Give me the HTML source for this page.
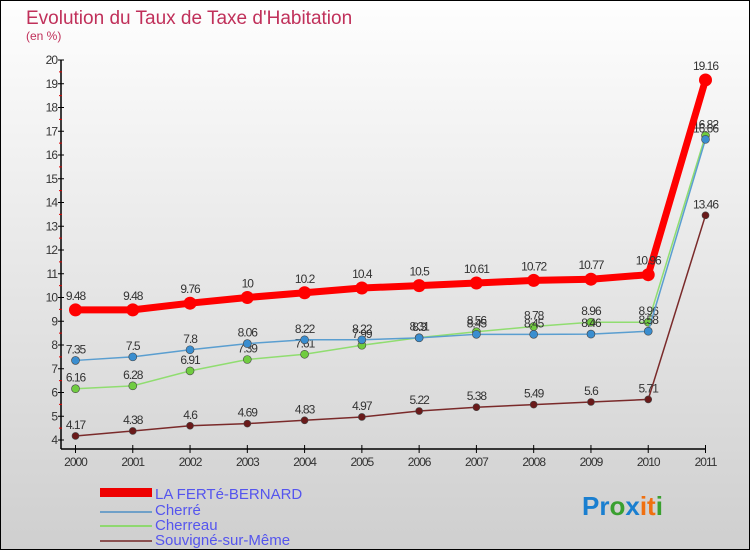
<!DOCTYPE html>
<html><head><meta charset="utf-8"><style>
body{margin:0}
#c{width:750px;height:550px;position:relative;box-sizing:border-box;border:1px solid #000;background:linear-gradient(#fefefe,#cfcfcf);font-family:"Liberation Sans",sans-serif;overflow:hidden}
</style></head><body>
<div id="c">
<svg id="s" width="750" height="550" style="position:absolute;left:-1px;top:-1px">
<text x="26" y="24" font-size="19" fill="#c0305a">Evolution du Taux de Taxe d'Habitation</text>
<text x="26" y="40" font-size="12" fill="#c0305a">(en %)</text>
<g id="axes"></g><g id="series"></g>
<g>
<rect x="100" y="488" width="52" height="9" fill="#e00"/>
<text x="155" y="499" font-size="15" fill="#5555ee">LA FERTé-BERNARD</text>
<rect x="100" y="511" width="52" height="2" fill="#6fa0c8"/>
<text x="155" y="515" font-size="15" fill="#5555ee">Cherré</text>
<rect x="100" y="525" width="52" height="2" fill="#8fd870"/>
<text x="155" y="530" font-size="15" fill="#5555ee">Cherreau</text>
<rect x="100" y="540" width="52" height="2" fill="#8a5050"/>
<text x="155" y="545" font-size="15" fill="#5555ee">Souvigné-sur-Même</text>
</g>
<text x="582" y="515" font-size="26" font-weight="bold"><tspan fill="#1a7fd0">Pr</tspan><tspan fill="#3aa030">o</tspan><tspan fill="#1a7fd0">x</tspan><tspan fill="#f07010">it</tspan><tspan fill="#3aa030">i</tspan></text>
</svg>
</div>
<script>
const years=[2000,2001,2002,2003,2004,2005,2006,2007,2008,2009,2010,2011];
const yTicks=[4,5,6,7,8,9,10,11,12,13,14,15,16,17,18,19,20];
const laferte=[9.48,9.48,9.76,10,10.2,10.4,10.5,10.61,10.72,10.77,10.96,19.16];
const cherre=[7.35,7.5,7.8,8.06,8.22,8.22,8.3,8.45,8.45,8.46,8.58,16.66];
const cherreau=[6.16,6.28,6.91,7.39,7.61,7.99,8.31,8.56,8.78,8.96,8.96,16.82];
const souvigne=[4.17,4.38,4.6,4.69,4.83,4.97,5.22,5.38,5.49,5.6,5.71,13.46];
const NS="http://www.w3.org/2000/svg";
const xs=i=>75.5+i*(705.5-75.5)/11;
const ys=v=>440-(v-4)*(380/16);
function mk(t,a,p){const e=document.createElementNS(NS,t);for(const k in a)e.setAttribute(k,a[k]);p.appendChild(e);return e;}
const ax=document.getElementById('axes'),sg=document.getElementById('series');
const yl=mk('line',{x1:61,y1:ys(20),x2:61,y2:449,stroke:'#000','stroke-width':1.5},ax);


const xl=mk('line',{x1:61,y1:449,x2:706,y2:449,stroke:'#000','stroke-width':1.5},ax);


yTicks.forEach(v=>{
 const y=ys(v);
 mk('line',{x1:58,y1:y,x2:64,y2:y,stroke:'#000'},ax);
 if(v<20) mk('line',{x1:59,y1:ys(v+0.5),x2:62,y2:ys(v+0.5),stroke:'#d00'},ax);
 const t=mk('text',{x:57,y:y+4,'font-size':12,fill:'#333','text-anchor':'end','letter-spacing':'-1'},ax);
 t.textContent=v;
 
 
});
years.forEach((yr,i)=>{
 const x=xs(i);
 mk('line',{x1:x,y1:445,x2:x,y2:453,stroke:'#000'},ax);
 const t=mk('text',{x:x,y:466,'font-size':12,fill:'#333','text-anchor':'middle','letter-spacing':'-1'},ax);
 t.textContent=yr;
 
 
});
function series(vals,name,col,w,r,fill){
 const g=mk('g',{},sg);
 
 
 const p=mk('polyline',{points:vals.map((v,i)=>xs(i)+','+ys(v)).join(' '),fill:'none',stroke:col,'stroke-width':w},g);
 
 
 vals.forEach((v,i)=>{
  const c=mk('circle',{cx:xs(i),cy:ys(v),r:r,fill:fill,stroke:'#444','stroke-width':r>5?0:0.6},g);
  
  
  const t=mk('text',{x:xs(i),y:ys(v)-(r>5?10:7),'font-size':12,fill:'#333','text-anchor':'middle','letter-spacing':'-1'},g);
  t.textContent=v;
  
  
 });
}
series(souvigne,'souvigne','#7a2a2a',1.5,3.5,'#6a1a1a');
series(cherreau,'cherreau','#90dd70',1.5,4,'#70cc40');
series(cherre,'cherre','#5a9ed0',1.5,4,'#3a8ed0');
series(laferte,'laferte','#f00',7,6.5,'#f00');
</script>
</body></html>
